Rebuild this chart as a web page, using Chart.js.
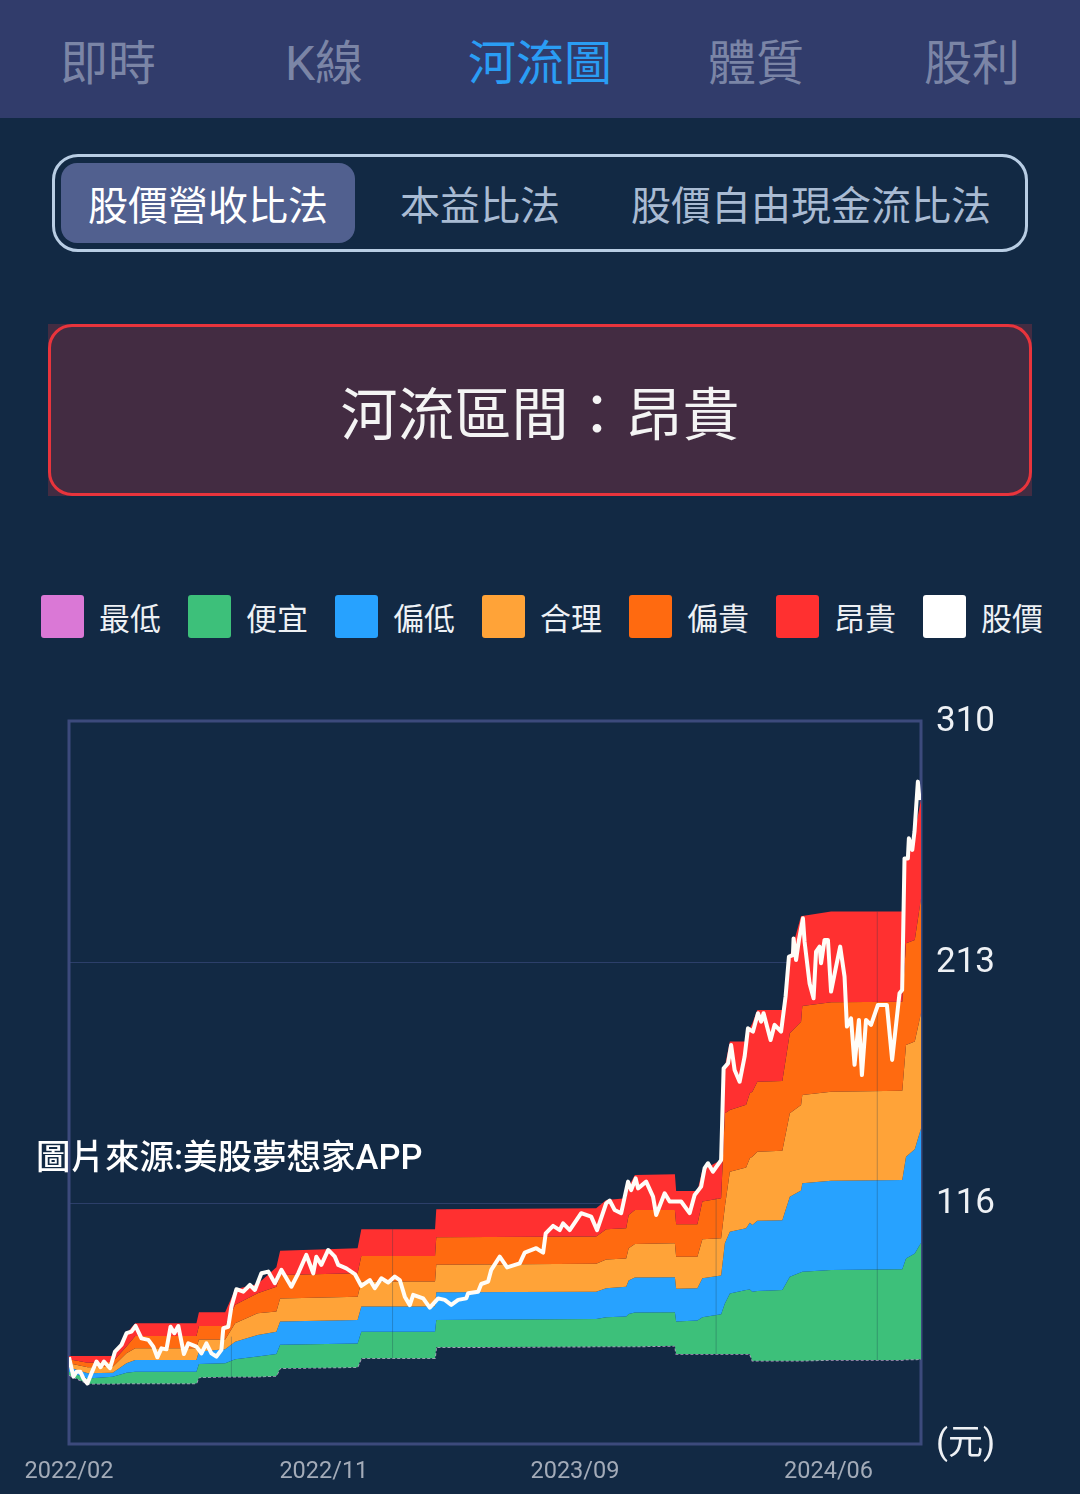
<!DOCTYPE html>
<html lang="zh-Hant">
<head>
<meta charset="UTF-8" />
<title>河流圖</title>
<script src="https://cdn.jsdelivr.net/npm/chart.js"></script>
<style>
    body {
        margin: 0;
        width: 1080px;
        height: 1494px;
        position: relative;
        overflow: hidden;
        background: #122944;
        font-family: Roboto, "Noto Sans CJK TC", sans-serif;
        color: #fff;
    }
    /* top tabs */
    .tabs {
        position: absolute; left: 0; top: 0; width: 1080px; height: 118px;
        background: #313c6b; display: flex;
    }
    .tabs div {
        width: 216px; text-align: center; font-size: 48px; line-height: 128px; color: #7b85a6;
    }
    .tabs .on { color: #2a9df4; }
    /* method switch */
    .switch {
        position: absolute; left: 52px; top: 154px; width: 970px; height: 92px;
        border: 3px solid #b8cde4; border-radius: 26px;
    }
    .pill {
        position: absolute; left: 61px; top: 163px; width: 294px; height: 80px;
        background: #51608f; border-radius: 16px;
    }
    .method {
        position: absolute; top: 163px; height: 80px; line-height: 88px; font-size: 40px;
        color: #a9bbd3; transform: translateX(-50%); white-space: nowrap;
    }
    /* zone box, the fill stays square behind the rounded border */
    .zone {
        position: absolute; left: 48px; top: 324px; width: 984px; height: 172px;
        background: #432c42;
        text-align: center; font-size: 57px; line-height: 184px; color: #f4f4f4;
    }
    .zone div {
        position: absolute; left: 0; top: 0; width: 978px; height: 166px;
        border: 3px solid #e8343c; border-radius: 24px;
    }
    /* legend */
    .sw { position: absolute; top: 595px; width: 43px; height: 43px; border-radius: 3px; }
    .lg { position: absolute; top: 600px; font-size: 31px; line-height: 40px; color: #eef1f5; white-space: nowrap; }
    #chart { position: absolute; left: 0; top: 685px; }
    .source {
        position: absolute; left: 36px; top: 1134px; font-size: 34.5px; line-height: 46px;
        font-weight: 500; color: #fff; white-space: nowrap;
    }
</style>
</head>
<body>

<div class="tabs">
    <div>即時</div><div>K線</div><div class="on">河流圖</div><div>體質</div><div>股利</div>
</div>

<div class="switch"></div>
<div class="pill"></div>
<div class="method" style="left:208px;color:#fff">股價營收比法</div>
<div class="method" style="left:480px">本益比法</div>
<div class="method" style="left:811px">股價自由現金流比法</div>

<div class="zone"><div></div>河流區間：昂貴</div>

<div class="sw" style="left:41px;background:#da78d6"></div><div class="lg" style="left:99px">最低</div>
<div class="sw" style="left:188px;background:#3dc07a"></div><div class="lg" style="left:246px">便宜</div>
<div class="sw" style="left:335px;background:#27a2ff"></div><div class="lg" style="left:393px">偏低</div>
<div class="sw" style="left:482px;background:#ffa338"></div><div class="lg" style="left:540px">合理</div>
<div class="sw" style="left:629px;background:#ff6a10"></div><div class="lg" style="left:687px">偏貴</div>
<div class="sw" style="left:776px;background:#ff3030"></div><div class="lg" style="left:834px">昂貴</div>
<div class="sw" style="left:923px;background:#ffffff"></div><div class="lg" style="left:981px">股價</div>

<canvas id="chart" width="1080" height="809"></canvas>

<div class="source">圖片來源:美股夢想家APP</div>

<script>
    // x axis unit is the trading session counted from 2022/02
    const xTickSessions = [0, 204, 405, 608];
    const xTickLabels = ['2022/02', '2022/11', '2023/09', '2024/06'];
    const yTickValues = [310, 213, 116, 19];
    const yTickLabels = ['310', '213', '116', '(元)'];

    // river band upper edges, read at these sessions
    const bandSessions = [0,15,35,46,53,102,104,125,133,151,166,169,231,234,
        293,294,422,430,446,448,453,485,486,503,507,522,
        525,529,542,545,547,551,571,577,586,587,610,667,670,677,682];
    const expensive = [54.4,54.4,54.4,63.6,67.6,67.6,72,72,81.3,83.4,90.1,96.8,97.8,105.4,
        105.4,113.5,113.9,117.2,117.9,122.6,127.3,127.6,120.8,120.8,129.3,133.3,
        170.9,181,181,186.3,188.3,193.7,193.7,215.2,231.5,231.5,233.3,233.3,254.7,265.5,278.2];
    const high = [53.1,51.7,52.1,58.2,62.5,62.5,66.5,66.5,75,79.7,82.3,87,87.7,94.7,
        94.7,102.2,102.5,105.4,105.8,111.2,113.2,113.2,107.4,107.4,116.6,117.9,
        152.1,153.4,155.5,160.2,160.8,164.8,165.1,184.3,189,195.3,196.8,197,220.5,221.9,238.6];
    const fair = [51.5,49.9,50.1,55.5,57.5,57.5,61.1,61.1,67.6,71.6,72.3,77.6,78.3,84.4,
        84.4,91.1,91.5,93.3,93.7,97.8,99.5,99.8,94.4,94.4,101.4,101.8,
        114.5,128.6,130.3,134,134.6,136.6,137,152.1,155.4,159.5,160.8,161.2,179.6,181,192.4];
    const low = [49.9,47.5,47.7,51.5,52.8,52.8,56.2,57.1,60.2,62.9,64.2,68.3,68.9,74.3,
        74.3,80.1,80.3,81.7,82.3,84.8,86,86.1,81.5,81.7,85.7,86.8,
        99.8,104.4,105.8,108.1,107.1,108.9,109.1,118.5,121,123.9,125,125.3,134.6,137.6,146];
    const cheap = [48.1,45.4,46.1,47.7,48.1,48.1,51.2,51.5,53.1,54.2,55.2,58.9,59.5,64.2,
        64.2,68.9,69.3,70,70.3,71.3,71.9,72,68.3,68.7,70,71.2,
        75.6,79.6,81,81.2,80.3,80.6,81,86.3,88.1,88.3,89,89.3,93.7,95.7,100];
    const lowest = [46.8,43.2,43.2,43.4,43.4,43.4,45.8,46.1,46.1,46.1,46.4,49.5,49.9,53.5,
        53.5,57.9,58.2,58.2,58.2,58.2,58.2,58.5,55.2,55.2,55.2,55.2,
        55.2,55.2,55.2,55.2,52.5,52.5,52.5,52.5,52.5,52.5,52.8,52.8,53,53,53.1];

    // share price
    const priceSessions = [0,3.5,6,9,11.5,14.7,18,22,25.3,28,32.8,36.8,42,46,50,53.3,58,63.5,67.5,70.7,74,78,81.3,84.3,87.5,92,95.5,102,106,110,114,118,122,123.5,127.5,130,134,139.5,144.8,148.8,154,159.5,164.8,170,178,183.5,190,195.5,198,202,207.5,212.8,215.5,222,228.8,234,240.8,244.8,250,255.5,260.8,264.8,
        268.8,272.8,275.5,283.5,288.8,295.5,300.8,306,311.5,318,319.5,327.5,330,335.5,338,344.8,350.7,360.8,364.8,374,379.5,381.6,387.5,392.8,395.5,400.8,410,418,422.7,430,432.8,436.8,442,447.5,450,453.6,455.5,462,467.5,470,476.8,480.8,490,496.8,500.8,506,508.8,511.5,515.5,522,
        524,527.5,530,532.8,536.8,540.8,543.5,547.5,551.5,554,556,559.5,561.6,564.8,570,573.6,576.3,579.5,580,582,584.3,587.5,588.8,592.8,596,598,600.8,602,604.8,607.5,610,614,617.3,620.8,622.7,626,628.8,632.3,634.7,638,642,647.5,654.7,658.9,664.8,666.9,668.8,671.5,672.3,675,676.8,679.5,680.8];
    const priceValues = [53.9,46.1,48.1,48.1,45.4,43.4,47.5,52.2,49.9,52.2,49.5,56.2,58.9,63.6,64.2,66.5,61.5,60.9,58.2,53.9,57.5,57.1,66.2,63.6,66.5,55.2,59.5,58.2,55.5,59.5,55.5,54.2,56.9,65.6,66.2,74.3,81.3,80.3,83,81,87.7,88.4,83.7,89.1,82.3,87.7,95.1,87.7,94.4,91.1,97.1,94.4,91.1,89.7,87.4,82.6,85,81.7,85.7,84,86.4,85,
        78.3,74.9,79,77.6,73.9,77.6,77,75,77,77.6,79.7,80.3,83.4,84.4,89.1,94.4,90.1,91.7,96,97.8,96,103.8,106.8,105.1,107.8,105.1,111.9,110.5,105.1,115.9,117,113.2,111.9,124.6,121.2,125.9,121.9,124.6,118.6,111.2,119.9,116.6,116.6,111.9,119.2,122.6,130,132,128.6,133.3,
        170.2,172.2,179.6,169.5,164.8,174.9,186.3,185,192.4,189,192.4,185.6,181.6,187.7,185,199.1,215.2,215.8,222.5,213.8,221.9,230.6,221.2,204.4,198.4,217.2,219.2,212.5,221.9,221.9,201.1,211.1,219.2,207.1,187,190.3,171.6,189.7,167.5,189.7,187.7,195.7,195.7,173.6,200.4,201.7,254.7,254.7,262.8,258.1,265.5,285.6,278.2];

    // faint vertical seams that show across the bands
    const seamSessions = [130, 259, 518, 647];
    const seamLow = [46, 53.5, 55.2, 52.8];
    const seamHigh = [62.2, 105.4, 118, 233.3];

    function toPoints(xs, ys) {
        return xs.map((x, i) => ({ x: x, y: ys[i] }));
    }

    function band(label, values, color) {
        return {
            label: label,
            data: toPoints(bandSessions, values),
            backgroundColor: color,
            borderWidth: 0,
            pointRadius: 0,
            tension: 0,
            fill: '+1'
        };
    }

    const seams = seamSessions.map((s, i) => ({
        label: 'seam' + i,
        data: [{ x: s, y: seamLow[i] }, { x: s, y: seamHigh[i] }],
        borderColor: 'rgba(30,60,80,0.3)',
        borderWidth: 1,
        pointRadius: 0,
        fill: false
    }));

    const plotFrame = {
        id: 'plotFrame',
        beforeDatasetsDraw(chart) {
            const a = chart.chartArea;
            const ctx = chart.ctx;
            ctx.save();
            ctx.strokeStyle = '#3c4a7c';
            ctx.lineWidth = 3;
            ctx.strokeRect(a.left, a.top, a.right - a.left, a.bottom - a.top);
            ctx.restore();
        }
    };

    new Chart(document.getElementById('chart').getContext('2d'), {
        type: 'line',
        data: {
            datasets: [
                {
                    label: '股價',
                    data: toPoints(priceSessions, priceValues),
                    borderColor: '#fffdf8',
                    borderWidth: 4,
                    borderJoinStyle: 'round',
                    pointRadius: 0,
                    tension: 0,
                    fill: false
                },
                ...seams,
                band('昂貴', expensive, '#ff3030'),
                band('偏貴', high, '#ff6a10'),
                band('合理', fair, '#ffa338'),
                band('偏低', low, '#27a2ff'),
                band('便宜', cheap, '#3dc07a'),
                {
                    label: '最低',
                    data: toPoints(bandSessions, lowest),
                    borderColor: '#b59ac0',
                    borderWidth: 1.5,
                    borderDash: [3, 2],
                    pointRadius: 0,
                    tension: 0,
                    fill: false
                }
            ]
        },
        options: {
            responsive: false,
            animation: false,
            events: [],
            layout: { padding: { left: 69, top: 22 } },
            plugins: { legend: { display: false }, tooltip: { enabled: false } },
            scales: {
                x: {
                    type: 'linear',
                    min: 0,
                    max: 682,
                    grid: { display: false },
                    border: { display: false },
                    afterBuildTicks: (axis) => { axis.ticks = xTickSessions.map(v => ({ value: v })); },
                    afterFit: (axis) => { axis.height = 50; },
                    ticks: {
                        autoSkip: false,
                        maxRotation: 0,
                        padding: 6,
                        color: '#a3abb8',
                        font: { family: 'Roboto', size: 23.5 },
                        callback: (v) => xTickLabels[xTickSessions.indexOf(v)]
                    }
                },
                y: {
                    position: 'right',
                    min: 19,
                    max: 310,
                    grid: { color: '#2c3f6a', lineWidth: 1, drawTicks: false },
                    border: { display: false },
                    afterBuildTicks: (axis) => { axis.ticks = yTickValues.map(v => ({ value: v })); },
                    afterFit: (axis) => { axis.width = 159; },
                    ticks: {
                        autoSkip: false,
                        padding: 15,
                        labelOffset: 1.5,
                        color: '#eef1f5',
                        font: { family: 'Roboto, "Noto Sans CJK TC"', size: 35 },
                        callback: (v) => yTickLabels[yTickValues.indexOf(v)]
                    }
                }
            }
        },
        plugins: [plotFrame]
    });
</script>

</body>
</html>
